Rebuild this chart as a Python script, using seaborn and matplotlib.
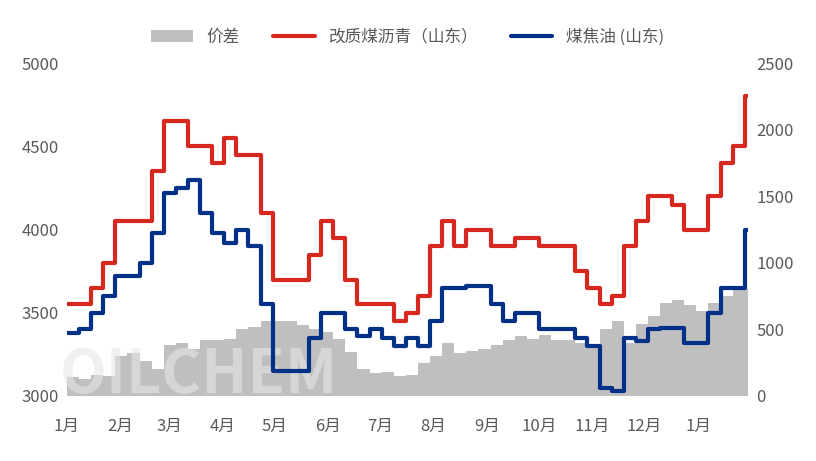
import matplotlib
matplotlib.use("Agg")
import matplotlib.pyplot as plt
import seaborn as sns
import numpy as np
import pandas as pd

# weekly values, first week of January through late January next year
red_price = [3550, 3550, 3650, 3800, 4050, 4050, 4050, 4350, 4650, 4650, 4500, 4500, 4400, 4550, 4450,
             4450, 4100, 3700, 3700, 3700, 3850, 4050, 3950, 3700, 3550, 3550, 3550, 3450, 3500, 3600,
             3900, 4050, 3900, 4000, 4000, 3900, 3900, 3950, 3950, 3900, 3900, 3900, 3750, 3650, 3550,
             3600, 3900, 4050, 4200, 4200, 4150, 4000, 4000, 4200, 4400, 4500, 4800, 4800]
blue_price = [3380, 3400, 3500, 3600, 3720, 3720, 3800, 3980, 4220, 4250, 4300, 4100, 3980, 3920, 4000,
              3900, 3550, 3150, 3150, 3150, 3350, 3500, 3500, 3400, 3360, 3400, 3350, 3300, 3350, 3300,
              3450, 3650, 3650, 3660, 3660, 3550, 3450, 3500, 3500, 3400, 3400, 3400, 3350, 3300, 3050,
              3030, 3350, 3330, 3400, 3410, 3410, 3320, 3320, 3500, 3650, 3650, 4000, 4000]
spread = [140, 130, 160, 150, 300, 320, 260, 200, 380, 400, 350, 420, 420, 430, 500,
          520, 560, 560, 560, 530, 500, 480, 430, 330, 200, 170, 180, 150, 160, 250,
          300, 400, 320, 340, 350, 380, 420, 450, 430, 460, 420, 420, 400, 380, 500,
          560, 400, 540, 600, 700, 720, 680, 640, 700, 750, 800, 800, 800]
month_labels = ["1月", "2月", "3月", "4月", "5月", "6月", "7月", "8月", "9月", "10月", "11月", "12月", "1月"]
month_days = [0, 31, 59, 90, 120, 151, 181, 212, 243, 273, 304, 334, 365]

days = list(np.arange(len(red_price) - 1) * 7) + [(len(red_price) - 2) * 7 + 2]
df = pd.DataFrame({"day": days, "red": red_price, "blue": blue_price, "spread": spread})

sns.set_style("white")
plt.rcParams["font.family"] = ["Noto Sans CJK SC", "DejaVu Sans"]

fig = plt.figure(figsize=(8.16, 4.61), dpi=100)
ax2 = fig.add_axes([0.082, 0.141, 0.835, 0.722])
ax = ax2.twinx()
ax2.yaxis.tick_right()
ax.yaxis.tick_left()

ax2.fill_between(df["day"], df["spread"], step="post", color="#bfbfbf", linewidth=0, label="价差")
sns.lineplot(data=df, x="day", y="red", ax=ax, drawstyle="steps-post", color="#d7281f",
             linewidth=3, label="改质煤沥青（山东）")
sns.lineplot(data=df, x="day", y="blue", ax=ax, drawstyle="steps-post", color="#003087",
             linewidth=3, label="煤焦油 (山东)")

ax.set_ylim(3000, 5000)
ax.set_yticks([3000, 3500, 4000, 4500, 5000])
ax2.set_ylim(0, 2500)
ax2.set_yticks([0, 500, 1000, 1500, 2000, 2500])
ax.set_xlim(0, df["day"].iloc[-1])
ax2.set_xticks(month_days)
ax2.set_xticklabels(month_labels)
for a in (ax, ax2):
    a.set_xlabel("")
    a.set_ylabel("")
    for s in a.spines.values():
        s.set_visible(False)
    a.tick_params(length=0, labelsize=12, colors="#595959", pad=6)
ax2.tick_params(axis="x", pad=16)

ax2.text(-0.01, -0.03, "OILCHEM", transform=ax2.transAxes, fontsize=44, color="#e6e6e6",
         alpha=0.6, ha="left", va="bottom", fontweight="bold")

h1, l1 = ax2.get_legend_handles_labels()
h2, l2 = ax.get_legend_handles_labels()
ax.legend(h1 + h2, l1 + l2, loc="upper center", bbox_to_anchor=(0.5, 1.15), ncol=3,
          frameon=False, fontsize=12, labelcolor="#595959", handlelength=2.5, columnspacing=2)

fig.savefig("out.png", dpi=100)
